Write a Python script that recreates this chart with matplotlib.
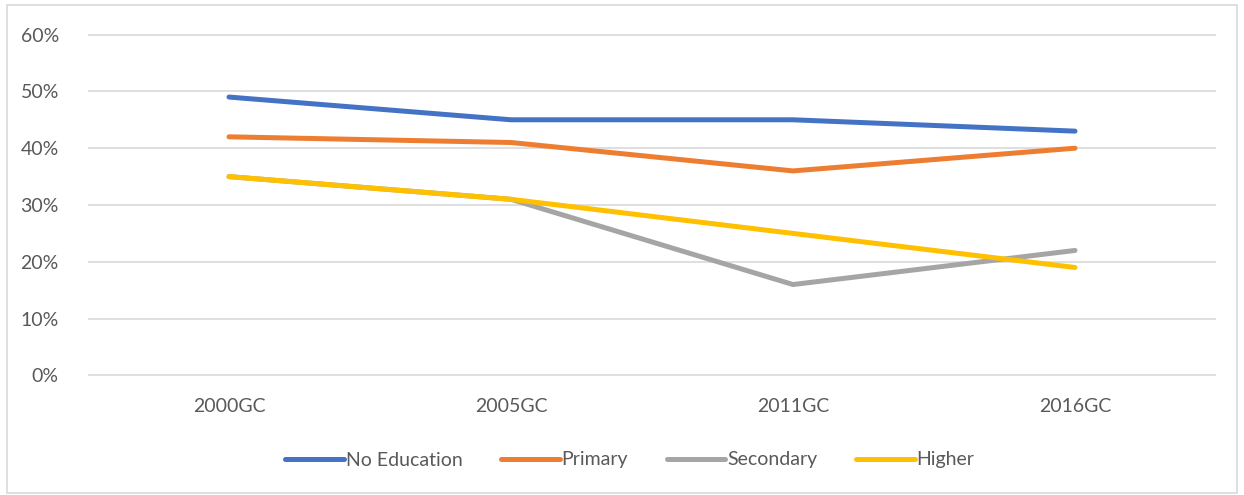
import matplotlib.pyplot as plt
from matplotlib.patches import Rectangle

years = ['2000GC', '2005GC', '2011GC', '2016GC']
no_education = [49, 45, 45, 43]
primary = [42, 41, 36, 40]
secondary = [35, 31, 16, 22]
higher = [35, 31, 25, 19]

series = [
    ('No Education', no_education, '#4472C4'),
    ('Primary', primary, '#ED7D31'),
    ('Secondary', secondary, '#A5A5A5'),
    ('Higher', higher, '#FFC000'),
]

plt.rcParams['font.family'] = ['Lato', 'DejaVu Sans']
text_color = '#595959'

fig = plt.figure(figsize=(12.44, 4.95), dpi=100)
ax = fig.add_axes([88 / 1244, 1 - 376 / 495, 1128 / 1244, 342 / 495])

x = range(len(years))
for name, vals, color in series:
    ax.plot(x, vals, color=color, lw=3.6, solid_capstyle='round', label=name)

ax.set_xlim(-0.5, len(years) - 0.5)
ax.set_ylim(-0.1, 60.1)
ax.set_yticks(range(0, 61, 10))
ax.set_yticklabels([f'{v}%' for v in range(0, 61, 10)])
ax.set_xticks(list(x))
ax.set_xticklabels(years)
ax.tick_params(length=0, labelsize=14, colors=text_color)
ax.tick_params(axis='x', pad=16)
ax.tick_params(axis='y', pad=21)
ax.grid(axis='y', color='#d9d9d9', lw=1.2)
ax.set_axisbelow(True)
for s in ax.spines.values():
    s.set_visible(False)

leg = fig.legend(loc='center', bbox_to_anchor=(630 / 1244, 1 - 460 / 495), ncol=4,
                 frameon=False, fontsize=14, handlelength=3.0, handletextpad=0.1,
                 columnspacing=2.0)
for t in leg.get_texts():
    t.set_color(text_color)

# outer chart border
fig.patches.append(Rectangle((7 / 1244, 2 / 495), 1230 / 1244, 488 / 495,
                             transform=fig.transFigure, fill=False,
                             edgecolor='#d9d9d9', lw=1.2))

fig.savefig('out.png', dpi=100)
